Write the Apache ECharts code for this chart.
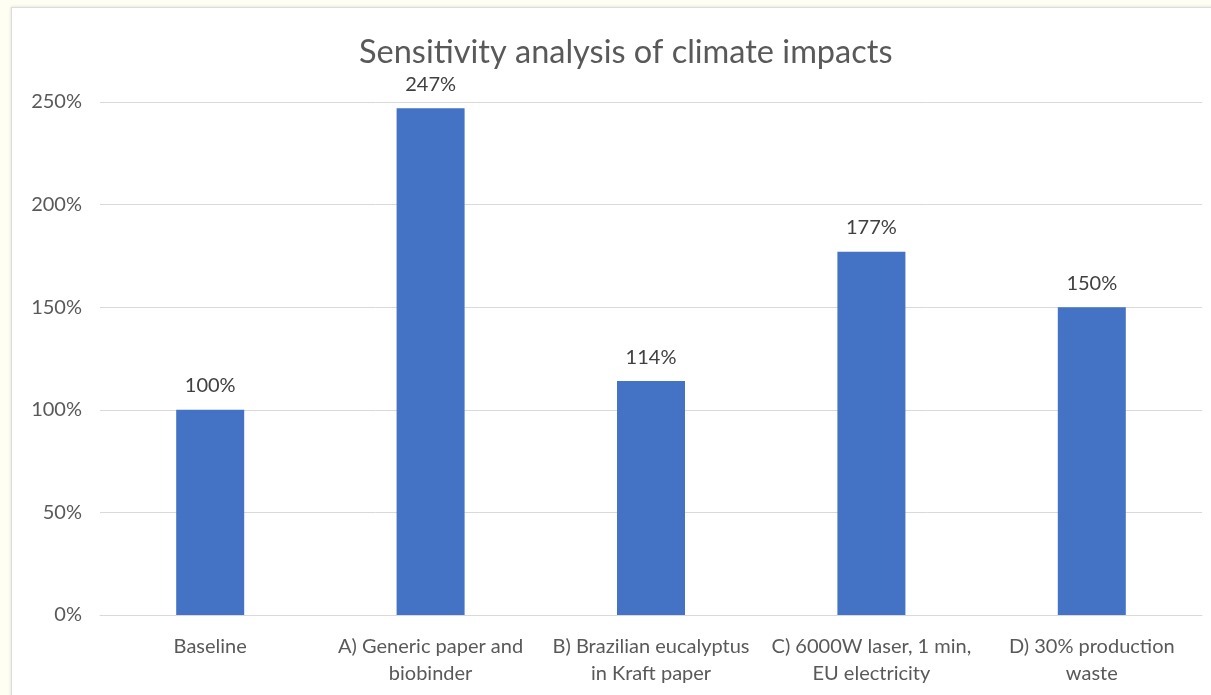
<!DOCTYPE html>
<html>
<head>
<meta charset="utf-8">
<script src="https://cdn.jsdelivr.net/npm/echarts@6/dist/echarts.min.js"></script>
<style>
html,body{margin:0;padding:0;background:#fffef2;width:1211px;height:695px;overflow:hidden;}
#box{position:absolute;left:11px;top:7px;width:1220px;height:700px;background:#fff;border:1px solid #dcdcdc;box-shadow:0 0 3px rgba(0,0,0,0.15);}
#chart{position:absolute;left:0;top:0;width:1211px;height:695px;}
</style>
</head>
<body>
<div id="box"></div>
<div id="chart"></div>
<script>
const categories = ["Baseline", "A) Generic paper and\nbiobinder", "B) Brazilian eucalyptus\nin Kraft paper", "C) 6000W laser, 1 min,\nEU electricity", "D) 30% production\nwaste"];
const values = [100, 247, 114, 177, 150];
const titleText = "Sensitivity analysis of climate impacts";

const chart = echarts.init(document.getElementById('chart'), null, {renderer:'canvas'});
const font = "Lato, 'Open Sans', sans-serif";
chart.setOption({
  animation:false,
  backgroundColor:'transparent',
  title:{text:titleText,left:354,top:31,textStyle:{fontFamily:font,fontSize:32.5,fontWeight:'normal',color:'#595959'}},
  grid:{left:100,right:9,top:102,bottom:80},
  xAxis:{type:'category',data:categories,
    axisLine:{lineStyle:{color:'#d9d9d9',width:1}},axisTick:{show:false},
    axisLabel:{interval:0,margin:18,fontFamily:font,fontSize:20,color:'#595959',lineHeight:27}},
  yAxis:{type:'value',min:0,max:250,interval:50,
    axisLabel:{formatter:'{value}%',margin:18,fontFamily:font,fontSize:20,color:'#595959'},
    splitLine:{lineStyle:{color:'#d9d9d9',width:1}},axisLine:{show:false},axisTick:{show:false}},
  series:[{type:'bar',data:values,barWidth:68,itemStyle:{color:'#4472c4'},
    label:{show:true,position:'top',distance:14,formatter:'{c}%',fontFamily:font,fontSize:20,color:'#404040'}}]
});
</script>
</body>
</html>
